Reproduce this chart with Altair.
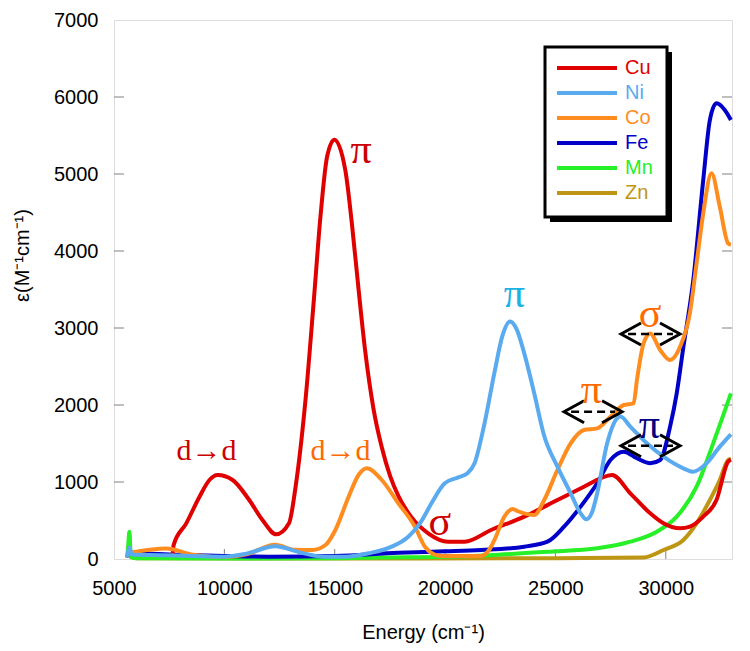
import altair as alt
import pandas as pd

# ---------------- data ----------------
series = ["Cu", "Ni", "Co", "Fe", "Mn", "Zn"]
colors = ["#e00000", "#5aaaf0", "#ff8c1e", "#0000c8", "#28f028", "#be9614"]
draw_order = ["Zn", "Mn", "Fe", "Cu", "Co", "Ni"]

x_ticks = [5000, 10000, 15000, 20000, 25000, 30000]
y_ticks = [0, 1000, 2000, 3000, 4000, 5000, 6000, 7000]

cu_x = [7660, 7700, 8274, 8874, 9324, 9698, 10374, 11126, 11726, 12350, 12928, 13228, 13676, 14054, 14354,
        14654, 14985, 15480, 15780, 16081, 16381, 16757, 17132, 17508, 17883, 18483, 19234, 20135, 20886,
        22086, 23588, 25090, 26291, 27042, 27568, 28393, 29294, 29895, 30646, 31096, 31697, 32297, 32823, 32950]
cu_y = [60, 180, 463, 809, 1026, 1090, 1026, 766, 506, 320, 463, 939, 2065, 3364, 4446,
        5224, 5445, 5050, 4350, 3500, 2700, 1950, 1450, 1080, 820, 540, 334, 225, 225,
        377, 550, 766, 939, 1048, 1091, 853, 593, 463, 398, 420, 550, 766, 1264, 1290]

ni_x = [5600, 5700, 5800, 7000, 8500, 10000, 11000, 12300, 13500, 14500, 15500, 16532, 17582, 18333, 18900,
        19384, 19985, 20600, 21000, 21336, 21787, 22237, 22600, 22941, 23250, 23588, 24039, 24490, 25090,
        25691, 26141, 26400, 26650, 26892, 27343, 27793, 27950, 28393, 29144, 29895, 30796, 31246, 31847,
        32447, 32950]
ni_y = [20, 150, 60, 50, 40, 30, 70, 165, 80, 30, 30, 74, 160, 290, 480,
        723, 983, 1060, 1110, 1243, 1760, 2420, 2900, 3085, 2980, 2671, 2152, 1600, 1200,
        853, 593, 515, 600, 853, 1502, 1827, 1850, 1718, 1502, 1329, 1178, 1134, 1243,
        1459, 1620]

co_x = [5600, 5680, 6000, 6622, 7374, 8500, 10000, 11000, 12300, 13200, 13980, 14580, 15030, 15631, 16100,
        16456, 17132, 17883, 18634, 19084, 19500, 19835, 21636, 22000, 22237, 22688, 23063, 23300, 23588,
        24039, 24490, 25090, 25691, 26291, 26892, 27493, 28093, 28543, 28693, 28994, 29294, 29745, 30195,
        30646, 31096, 31396, 31697, 32072, 32447, 32823, 32950]
co_y = [20, 80, 95, 120, 135, 60, 25, 60, 185, 120, 117, 182, 377, 809, 1100,
        1178, 1026, 723, 420, 160, 60, 40, 40, 120, 247, 550, 650, 620, 593,
        571, 766, 1156, 1502, 1675, 1697, 1848, 2000, 2022, 2325, 2801, 2930, 2714, 2584,
        2757, 3200, 3840, 4489, 5009, 4575, 4100, 4080]

fe_x = [5600, 5700, 6000, 8000, 10000, 12000, 15000, 17883, 20000, 21636, 23588, 24640, 25391, 26141,
        26892, 27493, 28093, 28693, 29294, 29745, 30195, 30495, 30796, 31246, 31697, 31997, 32297, 32672, 32950]
fe_y = [20, 90, 80, 55, 40, 30, 40, 82, 100, 117, 160, 225, 420, 680,
        983, 1286, 1394, 1308, 1243, 1286, 1719, 2152, 2750, 3623, 4922, 5701, 5918, 5831, 5701]

mn_x = [5620, 5700, 5760, 6000, 10000, 15000, 17000, 20000, 22000, 24640, 26892, 28393, 29595, 30495,
        31396, 32147, 32950]
mn_y = [20, 355, 30, 10, 5, 10, 20, 30, 50, 95, 139, 225, 355, 550, 939, 1502, 2150]

zn_x = [5600, 5660, 5740, 6000, 15000, 25000, 29000, 29895, 30796, 31396, 31997, 32447, 32823, 32950]
zn_y = [20, 180, 30, 10, 5, 10, 20, 117, 247, 463, 766, 1026, 1286, 1300]

curves = {"Cu": (cu_x, cu_y), "Ni": (ni_x, ni_y), "Co": (co_x, co_y),
          "Fe": (fe_x, fe_y), "Mn": (mn_x, mn_y), "Zn": (zn_x, zn_y)}

# annotations
ann_text = ["d\u2192d", "d\u2192d", "\u03c0", "\u03c0", "\u03c3", "\u03c0", "\u03c3", "\u03c0"]
ann_x = [9190, 15260, 16194, 23140, 19761, 26630, 29293, 29257]
ann_y = [1286, 1286, 5143, 3277, 312, 2022, 3017, 1568]
ann_color = ["#cc0000", "#ff6a00", "#cc0000", "#1ab2e6", "#cc0000", "#ff6a00", "#ff6a00", "#000080"]
ann_kind = ["dd", "dd", "g", "g", "g", "g", "g", "g"]

arrow_x1 = [25392, 27973, 27973]
arrow_x2 = [28018, 30644, 30644]
arrow_y = [1913, 2922, 1471]

# ---------------- frames ----------------
rows = []
for m in draw_order:
    xs_, ys_ = curves[m]
    for xv, yv in zip(xs_, ys_):
        rows.append({"metal": m, "energy": xv, "eps": yv})
df = pd.DataFrame(rows)

W, H = 618, 539
XMIN, XMAX, YMIN, YMAX = 5000, 33000, 0, 7000
px_x = (XMAX - XMIN) / W
px_y = (YMAX - YMIN) / H

chev = []
dash = []
for i, (a, b, yv) in enumerate(zip(arrow_x1, arrow_x2, arrow_y)):
    dx, dy = 20 * px_x, 11 * px_y
    for k, (xa, ya) in enumerate([(a + dx, yv + dy), (a, yv), (a + dx, yv - dy)]):
        chev.append({"g": f"L{i}", "o": k, "x": xa, "y": ya})
    for k, (xa, ya) in enumerate([(b - dx, yv + dy), (b, yv), (b - dx, yv - dy)]):
        chev.append({"g": f"R{i}", "o": k, "x": xa, "y": ya})
    dash.append({"x": a + 7 * px_x, "x2": b - 7 * px_x, "y": yv})
chev_df = pd.DataFrame(chev)
dash_df = pd.DataFrame(dash)

ann_df = pd.DataFrame({"t": ann_text, "x": ann_x, "y": ann_y, "c": ann_color, "k": ann_kind})
xt_df = pd.DataFrame({"v": x_ticks[1:]})
yt_df = pd.DataFrame({"v": y_ticks[1:-1]})

# ---------------- scales / axes ----------------
xs = alt.Scale(domain=[XMIN, XMAX], nice=False, zero=False)
ys = alt.Scale(domain=[YMIN, YMAX], nice=False, zero=False)

FONT = "Liberation Sans"
TICK = "#808080"
TS = 10
x_axis = alt.Axis(values=x_ticks, format="d", grid=False, domain=False, ticks=False,
                  labelFontSize=20, labelFont=FONT, labelAlign="center",
                  labelColor="black", labelPadding=19, labelFlush=False, labelOverlap=False,
                  title="Energy (cm\u207b\u00b9)", titleFont=FONT,
                  titleFontSize=20, titleFontWeight="normal", titleColor="black",
                  titleX=309, titleY=73, titleBaseline="middle", titleAlign="center")
y_axis = alt.Axis(values=y_ticks, format="d", grid=False, domain=False, ticks=False,
                  labelFontSize=20, labelFont=FONT,
                  labelColor="black", labelPadding=16, labelFlush=False, labelOverlap=False,
                  title="\u03b5(M\u207b\u00b9cm\u207b\u00b9)", titleFont=FONT,
                  titleFontSize=20, titleFontWeight="normal", titleColor="black",
                  titleX=-92, titleY=235, titleBaseline="middle", titleAlign="center", titleAngle=-90)

label_expr = " : ".join(f"datum.value == '{s}' ? '{c}'" for s, c in zip(series, colors)) + " : 'black'"

legend = alt.Legend(title=None, orient="none", legendX=443, legendY=36, direction="vertical",
                    symbolType="M-3,0L3,0", symbolSize=400, symbolStrokeWidth=4, symbolOffset=18,
                    labelOffset=26, rowPadding=3, labelFontSize=20, labelFont=FONT,
                    labelColor=alt.ExprRef(expr=label_expr), padding=0)

lines = alt.Chart(df).mark_line(strokeWidth=4, interpolate="monotone").encode(
    x=alt.X("energy:Q", scale=xs, axis=x_axis),
    y=alt.Y("eps:Q", scale=ys, axis=y_axis),
    color=alt.Color("metal:N", scale=alt.Scale(domain=series, range=colors), legend=legend),
)

# inward tick marks on bottom, left and right edges
tick_b = alt.Chart(xt_df).mark_rule(color=TICK, strokeWidth=1).encode(
    x=alt.X("v:Q", scale=xs, axis=None), y=alt.value(H - TS), y2=alt.value(H))
tick_l = alt.Chart(yt_df).mark_rule(color=TICK, strokeWidth=1).encode(
    y=alt.Y("v:Q", scale=ys, axis=None), x=alt.value(0), x2=alt.value(TS))
tick_r = alt.Chart(yt_df).mark_rule(color=TICK, strokeWidth=1).encode(
    y=alt.Y("v:Q", scale=ys, axis=None), x=alt.value(W - TS), x2=alt.value(W))

dashes = alt.Chart(dash_df).mark_rule(color="black", strokeWidth=2.5, strokeDash=[8, 5]).encode(
    x=alt.X("x:Q", scale=xs, axis=None), x2="x2:Q", y=alt.Y("y:Q", scale=ys, axis=None))

chevrons = alt.Chart(chev_df).mark_line(color="black", strokeWidth=3).encode(
    x=alt.X("x:Q", scale=xs, axis=None), y=alt.Y("y:Q", scale=ys, axis=None),
    detail="g:N", order="o:Q")

greek = alt.Chart(ann_df).transform_filter("datum.k == 'g'").mark_text(
    font="Liberation Serif", fontSize=42, baseline="alphabetic", align="center").encode(
    x=alt.X("x:Q", scale=xs, axis=None), y=alt.Y("y:Q", scale=ys, axis=None),
    text="t:N", color=alt.Color("c:N", scale=None))

ddt = alt.Chart(ann_df).transform_filter("datum.k == 'dd'").mark_text(
    font="Liberation Serif", fontSize=30, baseline="alphabetic", align="center").encode(
    x=alt.X("x:Q", scale=xs, axis=None), y=alt.Y("y:Q", scale=ys, axis=None),
    text="t:N", color=alt.Color("c:N", scale=None))

box_df = pd.DataFrame({"k": [0]})
shadow = alt.Chart(box_df).mark_rect(color="black").encode(
    x=alt.value(436), x2=alt.value(558), y=alt.value(32), y2=alt.value(202))
box = alt.Chart(box_df).mark_rect(fill="white", stroke="black", strokeWidth=3).encode(
    x=alt.value(431), x2=alt.value(553), y=alt.value(27), y2=alt.value(197))

chart = alt.layer(tick_b, tick_l, tick_r, lines, dashes, chevrons, greek, ddt, shadow, box).resolve_axis(
    x="independent", y="independent").resolve_scale(color="independent").properties(
    width=W, height=H, autosize=alt.AutoSizeParams(type="none"),
    padding={"left": 106, "top": 12, "right": 10, "bottom": 84},
).configure_view(stroke="#888888", strokeWidth=1).configure(background="white")

chart.save("out.html", embed_options={"renderer": "svg", "actions": False})
